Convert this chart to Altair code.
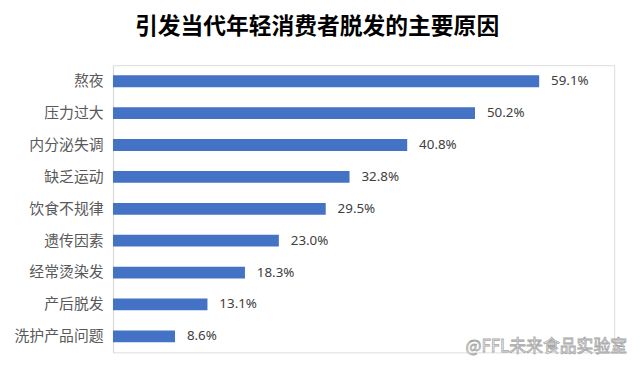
import altair as alt
import pandas as pd

categories = ["熬夜", "压力过大", "内分泌失调", "缺乏运动", "饮食不规律", "遗传因素", "经常烫染发", "产后脱发", "洗护产品问题"]
values = [59.1, 50.2, 40.8, 32.8, 29.5, 23.0, 18.3, 13.1, 8.6]
labels = [f"{v:.1f}%" for v in values]
title_text = "引发当代年轻消费者脱发的主要原因"
watermark = "@FFL未来食品实验室"

df = pd.DataFrame({"cat": categories, "val": values, "lab": labels})

y_enc = alt.Y("cat:N", sort=categories, title=None,
              scale=alt.Scale(paddingInner=0.63, paddingOuter=0.32),
              axis=alt.Axis(labelFont="Noto Sans CJK SC", labelFontSize=15, labelColor="#595959",
                            labelPadding=10, ticks=False, domainColor="#D9D9D9", domainWidth=1.2,
                            grid=False))
x_enc = alt.X("val:Q", title=None, scale=alt.Scale(domain=[0, 69.5], nice=False), axis=None)

bars = alt.Chart(df).mark_bar(color="#4472C4").encode(x=x_enc, y=y_enc)
text = alt.Chart(df).mark_text(align="left", baseline="middle", dx=12, font="Noto Sans",
                               fontSize=13.5, color="#404040").encode(x=x_enc, y=y_enc, text="lab:N")
wm = alt.Chart(pd.DataFrame({"t": [watermark]})).mark_text(
    align="right", baseline="middle", font="Noto Sans CJK SC", fontSize=17,
    fill="white", stroke="#A6A6A6", strokeWidth=0.8
).encode(x=alt.value(519), y=alt.value(285), text="t:N")

chart = alt.layer(bars, text, wm).properties(
    width=506, height=290,
    title=alt.TitleParams(title_text, font="Noto Sans CJK SC", fontSize=23, fontWeight="bold",
                          color="#000000", anchor="middle", dx=-47, offset=26),
    autosize=alt.AutoSizeParams(type="none"),
    padding={"left": 106, "top": 56, "right": 18, "bottom": 10},
).configure_view(stroke=None).configure(background="white")

chart.save("out.html", embed_options={"renderer": "svg", "actions": False})
